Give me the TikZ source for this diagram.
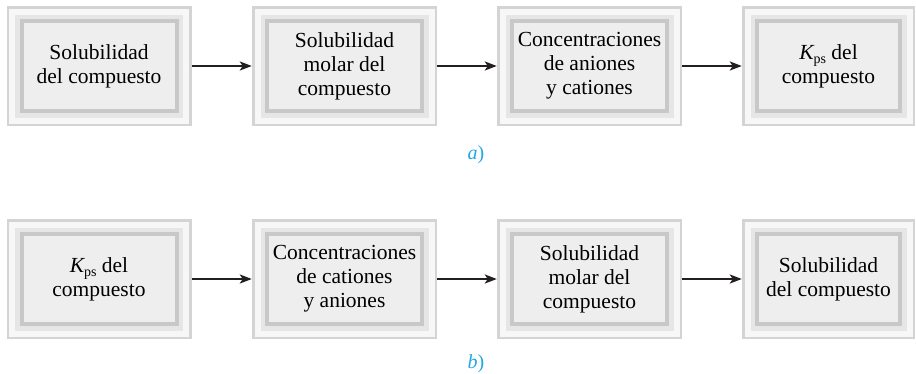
\documentclass[tikz,border=0pt]{standalone}
\usepackage{fontspec}
\setmainfont{Liberation Serif}
\usetikzlibrary{arrows.meta}
\definecolor{frA}{HTML}{D4D4D4}
\definecolor{frB}{HTML}{F7F7F7}
\definecolor{frC}{HTML}{E6E6E6}
\definecolor{frD}{HTML}{C8C8C8}
\definecolor{frE}{HTML}{EEEEEE}
\definecolor{lblc}{HTML}{1FA8E0}
\definecolor{arrc}{HTML}{231F20}
\newcommand\kps{{\itshape K}\raisebox{-0.22em}{\fontsize{14}{14}\selectfont ps}}
% #1 name, #2 center x, #3 center y, #4 width, #5 text
\newcommand\frmbox[5]{%
  \begin{scope}[shift={(#2,#3)}]
    \pgfmathsetmacro\hw{#4/2}
    \fill[frA] (-\hw,-60) rectangle (\hw,60);
    \fill[frB] (-\hw+2.5,-57.5) rectangle (\hw-2.5,57.5);
    \fill[frC] (-\hw+8.5,-51.5) rectangle (\hw-8.5,51.5);
    \fill[frD] (-\hw+13,-47) rectangle (\hw-13,47);
    \fill[frE] (-\hw+17,-43) rectangle (\hw-17,43);
  \end{scope}
  \node[boxtext, minimum width=#4pt] (#1) at (#2,#3) {#5};%
}
\tikzset{
  boxtext/.style={inner sep=0pt, minimum height=120pt, align=center,
    font=\fontsize{21.5}{24}\selectfont, text=black},
  conn/.style={draw=arrc, line width=2.2pt,
    -{Stealth[length=12pt,width=9pt,inset=3pt]}},
  lbl/.style={text=lblc, font=\fontsize{20}{22}\selectfont}
}
\begin{document}
\begin{tikzpicture}[x=1pt,y=-1pt]
\useasboundingbox (0,0) rectangle (916,373);
\fill[white] (0,0) rectangle (916,373);
% row a
\frmbox{a1}{99}{66}{185}{Solubilidad\\del compuesto}
\frmbox{a2}{344.5}{66}{185}{Solubilidad\\molar del\\compuesto}
\frmbox{a3}{589.5}{66}{185}{Concentraciones\\de aniones\\y cationes}
\frmbox{a4}{828.5}{66}{173}{\kps{} del\\compuesto}
\draw[conn] (a1.east) -- (a2.west);
\draw[conn] (a2.east) -- (a3.west);
\draw[conn] (a3.east) -- (a4.west);
\node[lbl] (la) at (476,155) {\textit{a})};
% row b
\frmbox{b1}{99}{279}{185}{\kps{} del\\compuesto}
\frmbox{b2}{344.5}{279}{185}{Concentraciones\\de cationes\\y aniones}
\frmbox{b3}{589.5}{279}{185}{Solubilidad\\molar del\\compuesto}
\frmbox{b4}{828.5}{279}{173}{Solubilidad\\del compuesto}
\draw[conn] (b1.east) -- (b2.west);
\draw[conn] (b2.east) -- (b3.west);
\draw[conn] (b3.east) -- (b4.west);
\node[lbl] (lb) at (476,364) {\textit{b})};
\end{tikzpicture}
\end{document}
